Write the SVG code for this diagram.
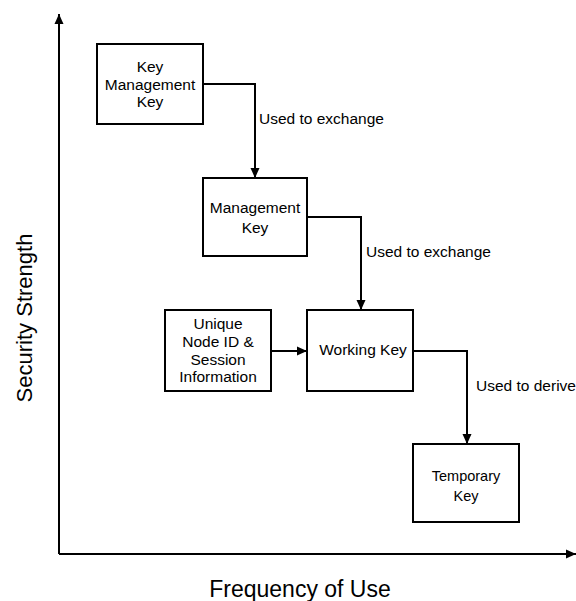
<svg xmlns="http://www.w3.org/2000/svg" width="576" height="601" viewBox="0 0 576 601">
  <style>
    .box { fill: #ffffff; stroke: #000000; stroke-width: 2; }
    .t { font-family: "Liberation Sans", Arial, sans-serif; font-size: 15.5px; fill: #000000; }
    .c { text-anchor: middle; }
    .ax { font-family: "Liberation Sans", Arial, sans-serif; font-size: 23px; fill: #000000; text-anchor: middle; }
    .line { fill: none; stroke: #000000; stroke-width: 2; }
  </style>
  <defs>
    <marker id="arrow" markerUnits="userSpaceOnUse" viewBox="0 0 10 10" refX="10" refY="5" markerWidth="10" markerHeight="10" orient="auto">
      <path d="M0,0.5 L10,5 L0,9.5 z" fill="#000000"/>
    </marker>
  </defs>
  <rect width="576" height="601" fill="#ffffff"/>

  <g id="axes">
    <path class="line" d="M59,554 L59,14" marker-end="url(#arrow)"/>
    <path class="line" d="M59,554 L576,554" marker-end="url(#arrow)"/>
    <text class="ax" x="300" y="597">Frequency of Use</text>
    <text class="ax" transform="translate(32,318) rotate(-90)" x="0" y="0" style="font-size:22px">Security Strength</text>
  </g>

  <g id="connectors">
    <path class="line" d="M203,84 L255,84 L255,178" marker-end="url(#arrow)"/>
    <path class="line" d="M307,217 L361,217 L361,310" marker-end="url(#arrow)"/>
    <path class="line" d="M271,351 L307,351" marker-end="url(#arrow)"/>
    <path class="line" d="M413,351 L467,351 L467,444" marker-end="url(#arrow)"/>
    <text class="t" x="259" y="124">Used to exchange</text>
    <text class="t" x="366" y="257">Used to exchange</text>
    <text class="t" x="476" y="391">Used to derive</text>
  </g>

  <g id="key-management-key">
    <rect class="box" x="97" y="44" width="106" height="80"/>
    <text class="t c" x="150" y="72">Key</text>
    <text class="t c" x="150" y="89.5">Management</text>
    <text class="t c" x="150" y="107">Key</text>
  </g>

  <g id="management-key">
    <rect class="box" x="203" y="178" width="104" height="78"/>
    <text class="t c" x="255" y="213">Management</text>
    <text class="t c" x="255" y="233">Key</text>
  </g>

  <g id="unique-node-id">
    <rect class="box" x="165" y="310" width="106" height="81"/>
    <text class="t c" x="218" y="329">Unique</text>
    <text class="t c" x="218" y="347">Node ID &amp;</text>
    <text class="t c" x="218" y="364.5">Session</text>
    <text class="t c" x="218" y="381.5">Information</text>
  </g>

  <g id="working-key">
    <rect class="box" x="307" y="310" width="106" height="81"/>
    <text class="t c" x="363" y="355">Working Key</text>
  </g>

  <g id="temporary-key">
    <rect class="box" x="413" y="444" width="106" height="78"/>
    <text class="t c" x="466" y="481" style="font-size:14.5px">Temporary</text>
    <text class="t c" x="466" y="501" style="font-size:14.5px">Key</text>
  </g>
</svg>
